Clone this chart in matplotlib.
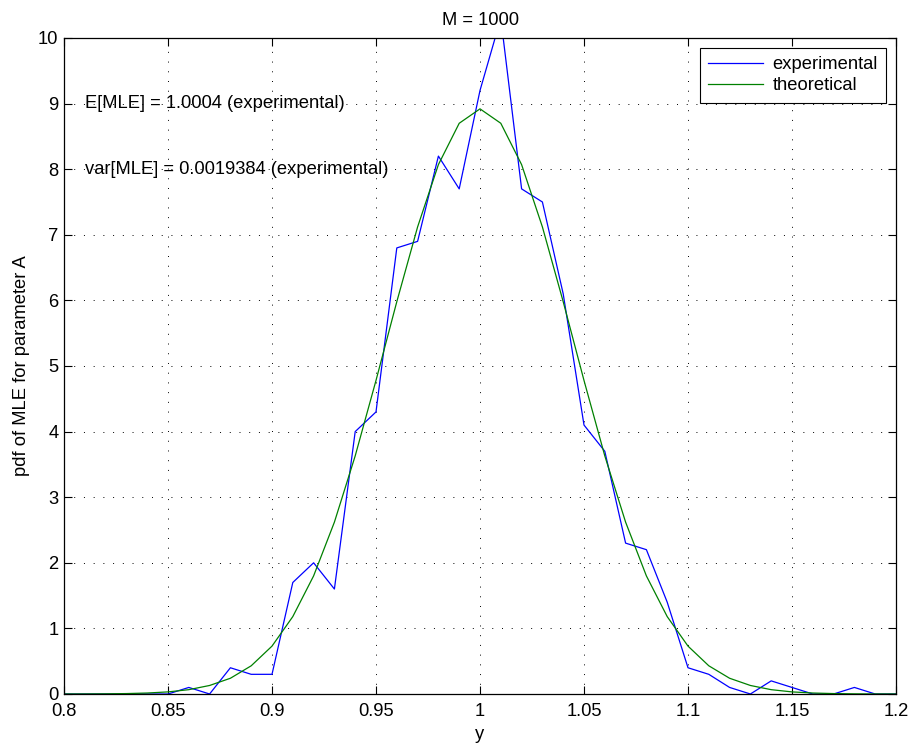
import matplotlib
matplotlib.use("Agg")
import matplotlib.pyplot as plt
import numpy as np

x_vals = [0.80, 0.81, 0.82, 0.83, 0.84, 0.85, 0.86, 0.87, 0.88, 0.89, 0.90,
          0.91, 0.92, 0.93, 0.94, 0.95, 0.96, 0.97, 0.98, 0.99, 1.00,
          1.01, 1.02, 1.03, 1.04, 1.05, 1.06, 1.07, 1.08, 1.09, 1.10,
          1.11, 1.12, 1.13, 1.14, 1.15, 1.16, 1.17, 1.18, 1.19, 1.20]

experimental = [0, 0, 0, 0, 0, 0, 0.1, 0, 0.4, 0.3, 0.3,
                1.7, 2.0, 1.6, 4.0, 4.3, 6.8, 6.9, 8.2, 7.7, 9.2,
                10.3, 7.7, 7.5, 6.1, 4.1, 3.7, 2.3, 2.2, 1.4, 0.4,
                0.3, 0.1, 0, 0.2, 0.1, 0, 0, 0.1, 0, 0]

theoretical = [0.0004, 0.001, 0.0026, 0.0065, 0.015, 0.032, 0.066, 0.13, 0.24, 0.43, 0.73,
               1.18, 1.80, 2.62, 3.63, 4.78, 5.98, 7.12, 8.07, 8.70, 8.92,
               8.70, 8.07, 7.12, 5.98, 4.78, 3.63, 2.62, 1.80, 1.18, 0.73,
               0.43, 0.24, 0.13, 0.066, 0.032, 0.015, 0.0065, 0.0026, 0.001, 0.0004]

x_ticks = [0.8, 0.85, 0.9, 0.95, 1.0, 1.05, 1.1, 1.15, 1.2]
x_tick_labels = ["0.8", "0.85", "0.9", "0.95", "1", "1.05", "1.1", "1.15", "1.2"]
y_ticks = list(range(0, 11))

title = "M = 1000"
xlabel = "y"
ylabel = "pdf of MLE for parameter A"
annot1 = "E[MLE] = 1.0004 (experimental)"
annot2 = "var[MLE] = 0.0019384 (experimental)"

FS = 13.2
plt.rcParams['font.family'] = ['Liberation Sans', 'DejaVu Sans']
plt.rcParams['font.size'] = FS

fig = plt.figure(figsize=(9.13, 7.46), dpi=100)
ax = fig.add_axes([64/913, 1 - 694/746, (896-64)/913, (694-38)/746])

ax.plot(x_vals, experimental, color=(0, 0, 1), lw=0.9, label="experimental")
ax.plot(x_vals, theoretical, color=(0, 0.5, 0), lw=0.9, label="theoretical")

ax.set_xlim(0.8, 1.2)
ax.set_ylim(0, 10)
ax.set_xticks(x_ticks)
ax.set_xticklabels(x_tick_labels)
ax.set_yticks(y_ticks)

ax.grid(True, color='black', linestyle=(0, (1, 9)), linewidth=0.7)
ax.tick_params(direction='in', top=True, right=True, length=6, width=0.8, labelsize=FS)
ax.tick_params(axis='x', pad=6.5)
ax.tick_params(axis='y', pad=4)
for s in ax.spines.values():
    s.set_linewidth(0.9)

ax.set_title(title, fontsize=FS, pad=9.5)
ax.set_xlabel(xlabel, fontsize=FS, labelpad=4)
ax.set_ylabel(ylabel, fontsize=FS, labelpad=6)

ax.text(0.8101, 9, annot1, fontsize=FS, va='center', ha='left')
ax.text(0.8101, 8, annot2, fontsize=FS, va='center', ha='left')

leg = ax.legend(loc='upper right', fontsize=FS, handlelength=3.0, fancybox=False,
                edgecolor='black', framealpha=1, borderpad=0.45, labelspacing=0.22,
                borderaxespad=0.55, handletextpad=0.5)
leg.get_frame().set_linewidth(0.8)

fig.savefig("out.png", dpi=100)
